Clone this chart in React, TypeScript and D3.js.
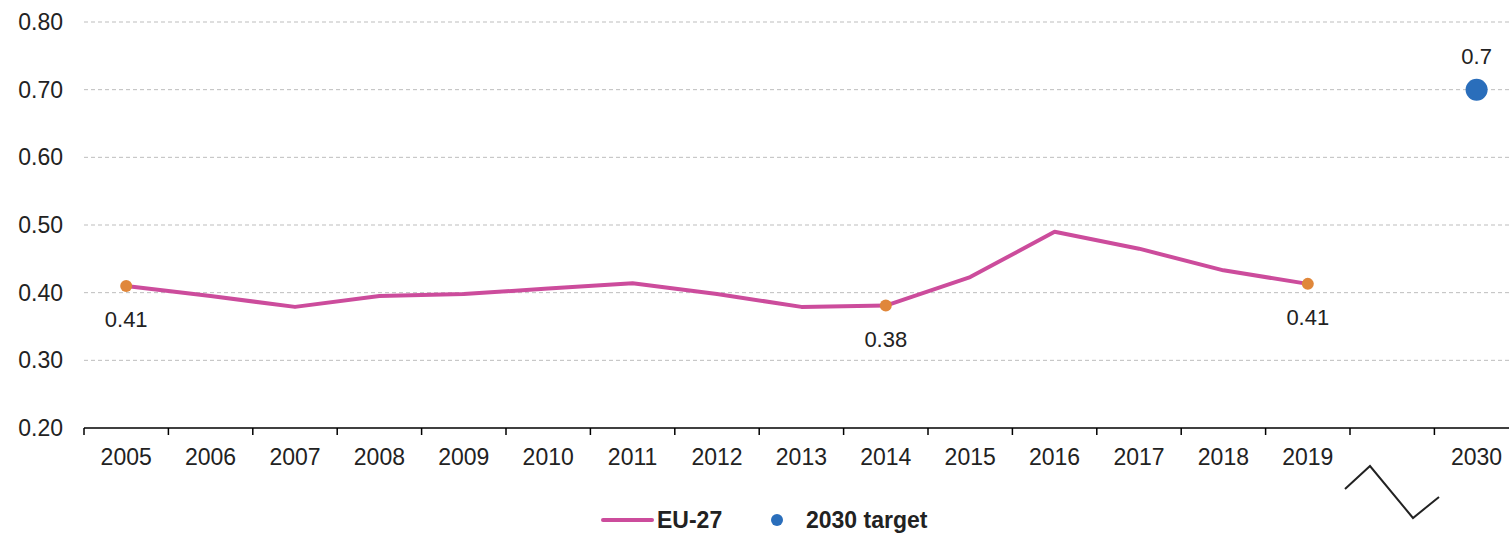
import React, { useEffect } from "react";
import * as d3 from "d3";

const categories = ["2005","2006","2007","2008","2009","2010","2011","2012","2013","2014","2015","2016","2017","2018","2019","gap","2030"];
const euYears = ["2005","2006","2007","2008","2009","2010","2011","2012","2013","2014","2015","2016","2017","2018","2019"];
const euValues = [0.41,0.395,0.379,0.395,0.398,0.406,0.414,0.398,0.379,0.381,0.423,0.49,0.465,0.433,0.413];
const labelledYears = ["2005","2014","2019"];
const labelledText = ["0.41","0.38","0.41"];
const targetYear = "2030";
const targetValue = 0.7;
const yTicks = [0.2,0.3,0.4,0.5,0.6,0.7,0.8];

const W = 1509, H = 535;
const left = 84, bandW = 84.4;
const FONT = "'Liberation Sans', Arial, sans-serif";

export default function App() {
  useEffect(() => { document.body.style.margin = "0"; }, []);
  const x = d3.scaleBand<string>().domain(categories).range([left, left + bandW * categories.length]).paddingInner(0).paddingOuter(0);
  const y = d3.scaleLinear().domain([0.2, 0.8]).range([428, 22]);
  const cx = (c: string) => (x(c) as number) + x.bandwidth() / 2;
  const line = d3.line<number>().x((_, i) => cx(euYears[i])).y(d => y(d));
  const tickXs = categories.map(c => x(c) as number);
  const gx0 = x("gap") as number;
  const zig = [[gx0 - 5, 489], [gx0 + 20, 466], [gx0 + 63, 518], [gx0 + 89, 497]];
  return (
    <svg width={W} height={H} style={{ display: "block", fontFamily: FONT }}>
      {yTicks.map(t => (
        <g key={t}>
          {t > 0.2 && <line x1={left} x2={W} y1={y(t)} y2={y(t)} stroke="#bdbdbd" strokeWidth={1} strokeDasharray="4,3" />}
          <text x={63} y={y(t)} dy="0.35em" textAnchor="end" fontSize={23} fill="#222">{t.toFixed(2)}</text>
        </g>
      ))}
      <line x1={left} x2={W} y1={428} y2={428} stroke="#000" strokeWidth={1.5} />
      {tickXs.map((tx, i) => (
        <line key={i} x1={tx} x2={tx} y1={428} y2={435} stroke="#000" strokeWidth={1.5} />
      ))}
      {categories.filter(c => c !== "gap").map(c => (
        <text key={c} x={cx(c)} y={465} textAnchor="middle" fontSize={23} fill="#222">{c}</text>
      ))}
      <polyline points={zig.map(p => p.join(",")).join(" ")} fill="none" stroke="#222" strokeWidth={2} />
      <path d={line(euValues) as string} fill="none" stroke="#cc4c9c" strokeWidth={4} strokeLinejoin="round" />
      {labelledYears.map((yr, i) => {
        const v = euValues[euYears.indexOf(yr)];
        return (
          <g key={yr}>
            <circle cx={cx(yr)} cy={y(v)} r={6} fill="#e0873a" />
            <text x={cx(yr)} y={y(v) + 41} textAnchor="middle" fontSize={22} fill="#222">{labelledText[i]}</text>
          </g>
        );
      })}
      <circle cx={cx(targetYear)} cy={y(targetValue)} r={11} fill="#2a6ebb" />
      <text x={cx(targetYear)} y={y(targetValue) - 26} textAnchor="middle" fontSize={22} fill="#222">0.7</text>
      <line x1={603} x2={652} y1={520} y2={520} stroke="#cc4c9c" strokeWidth={4} strokeLinecap="round" />
      <text x={657} y={520} dy="0.35em" fontSize={23} fontWeight="bold" fill="#222">EU-27</text>
      <circle cx={777} cy={520} r={6} fill="#2a6ebb" />
      <text x={806} y={520} dy="0.35em" fontSize={23} fontWeight="bold" fill="#222">2030 target</text>
    </svg>
  );
}
